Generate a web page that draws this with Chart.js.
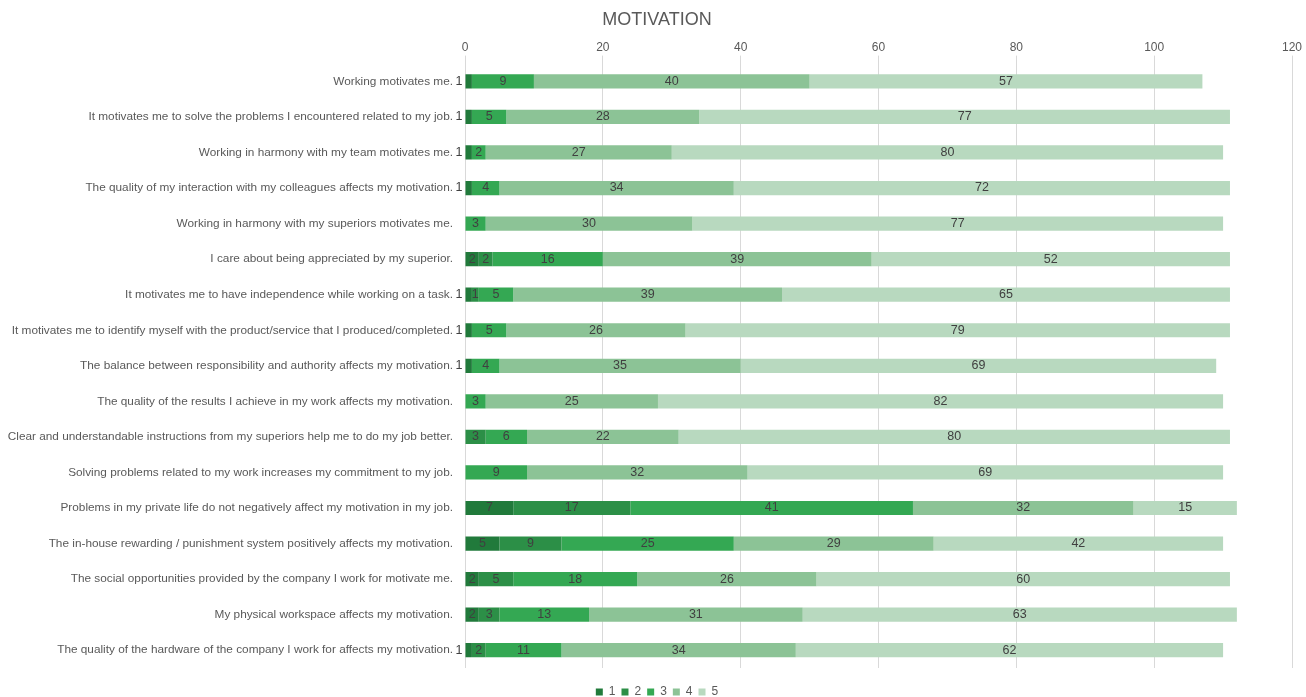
<!DOCTYPE html>
<html lang="en">
<head>
    <meta charset="UTF-8">
    <title>Motivation</title>
    <script src="https://cdn.jsdelivr.net/npm/chart.js"></script>
    <style>
        body { margin: 0; background: #fff; }
        .chart-box { width: 1306px; height: 697px; position: relative; }
    </style>
</head>
<body>
    <div class="chart-box">
        <canvas id="motivationChart"></canvas>
    </div>

    <script>
        const statements = [
            'Working motivates me.',
            'It motivates me to solve the problems I encountered related to my job.',
            'Working in harmony with my team motivates me.',
            'The quality of my interaction with my colleagues affects my motivation.',
            'Working in harmony with my superiors motivates me.',
            'I care about being appreciated by my superior.',
            'It motivates me to have independence while working on a task.',
            'It motivates me to identify myself with the product/service that I produced/completed.',
            'The balance between responsibility and authority affects my motivation.',
            'The quality of the results I achieve in my work affects my motivation.',
            'Clear and understandable instructions from my superiors help me to do my job better.',
            'Solving problems related to my work increases my commitment to my job.',
            'Problems in my private life do not negatively affect my motivation in my job.',
            'The in-house rewarding / punishment system positively affects my motivation.',
            'The social opportunities provided by the company I work for motivate me.',
            'My physical workspace affects my motivation.',
            'The quality of the hardware of the company I work for affects my motivation.'
        ];

        // answers per score (1 = lowest, 5 = highest)
        const score1 = [1, 1, 1, 1, 0, 2, 1, 1, 1, 0, 0, 0, 7, 5, 2, 2, 1];
        const score2 = [0, 0, 0, 0, 0, 2, 1, 0, 0, 0, 3, 0, 17, 9, 5, 3, 2];
        const score3 = [9, 5, 2, 4, 3, 16, 5, 5, 4, 3, 6, 9, 41, 25, 18, 13, 11];
        const score4 = [40, 28, 27, 34, 30, 39, 39, 26, 35, 25, 22, 32, 32, 29, 26, 31, 34];
        const score5 = [57, 77, 80, 72, 77, 52, 65, 79, 69, 82, 80, 69, 15, 42, 60, 63, 62];

        const scoreNames = ['1', '2', '3', '4', '5'];
        const scoreColors = ['#217a3b', '#2c8f47', '#34a853', '#8cc396', '#b8d9bf'];

        const textGray = '#595959';
        const font = 'Liberation Sans, Arial, sans-serif';

        // writes the value in the middle of each segment
        const segmentLabels = {
            id: 'segmentLabels',
            afterDatasetsDraw(chart) {
                const ctx = chart.ctx;
                ctx.save();
                ctx.font = '12.5px ' + font;
                ctx.fillStyle = '#404040';
                ctx.textBaseline = 'middle';
                chart.data.datasets.forEach((ds, i) => {
                    const meta = chart.getDatasetMeta(i);
                    meta.data.forEach((bar, j) => {
                        const v = ds.data[j];
                        if (!v) return;
                        if (i === 0 && v === 1) {
                            // too thin, put it outside next to the axis
                            ctx.textAlign = 'right';
                            ctx.fillText(v, bar.base - 3, bar.y);
                        } else {
                            ctx.textAlign = 'center';
                            ctx.fillText(v, (bar.x + bar.base) / 2, bar.y);
                        }
                    });
                });
                ctx.restore();
            }
        };

        const datasets = [score1, score2, score3, score4, score5].map((values, i) => ({
            label: scoreNames[i],
            data: values,
            backgroundColor: scoreColors[i],
            barPercentage: 0.4,
            categoryPercentage: 1
        }));

        const ctx = document.getElementById('motivationChart').getContext('2d');
        new Chart(ctx, {
            type: 'bar',
            data: {
                labels: statements,
                datasets: datasets
            },
            options: {
                indexAxis: 'y',
                responsive: true,
                maintainAspectRatio: false,
                animation: false,
                layout: {
                    padding: { left: 8, right: 0, top: 0, bottom: -11 }
                },
                scales: {
                    x: {
                        position: 'top',
                        stacked: true,
                        min: 0,
                        max: 120,
                        ticks: {
                            stepSize: 20,
                            padding: 1,
                            color: textGray,
                            font: { family: font, size: 12 }
                        },
                        grid: { color: '#d9d9d9', tickLength: 8 },
                        border: { display: false },
                        afterFit: (scale) => {
                            scale.height = 28;
                            scale.paddingRight = 14;
                        }
                    },
                    y: {
                        stacked: true,
                        grid: { display: false, drawTicks: false },
                        border: { display: false },
                        ticks: {
                            padding: 12,
                            color: textGray,
                            font: { family: font, size: 11.8 }
                        },
                        afterFit: (scale) => { scale.width = 457; }
                    }
                },
                plugins: {
                    title: {
                        display: true,
                        text: 'MOTIVATION',
                        color: textGray,
                        font: { family: font, size: 18, weight: 'normal' },
                        padding: { top: 9, bottom: 5 }
                    },
                    legend: {
                        position: 'bottom',
                        // empty title only used as a spacer above the items
                        title: { display: true, text: ' ', font: { size: 10 }, padding: 0 },
                        labels: {
                            boxWidth: 7,
                            boxHeight: 7,
                            padding: 6,
                            color: textGray,
                            font: { family: font, size: 12 }
                        }
                    },
                    tooltip: { enabled: false }
                }
            },
            plugins: [segmentLabels]
        });
    </script>
</body>
</html>
